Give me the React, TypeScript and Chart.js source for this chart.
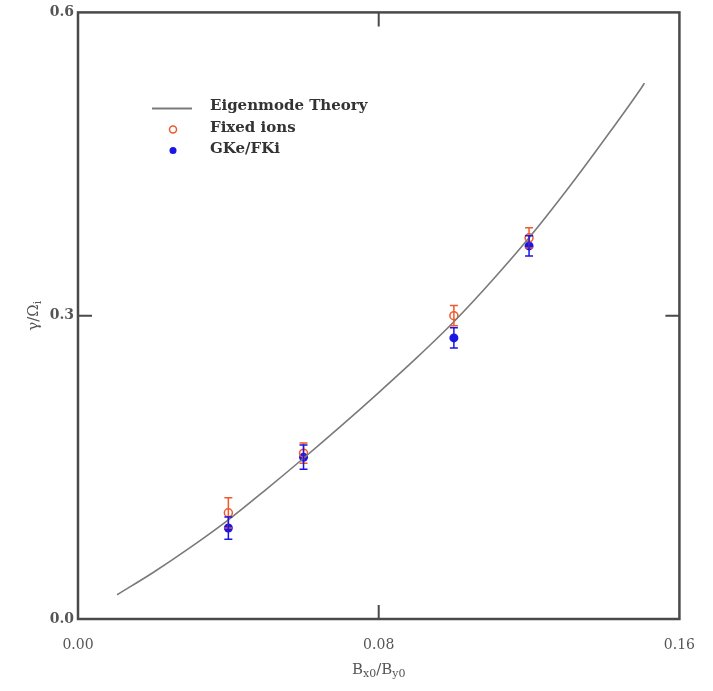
import React, { useEffect, useRef } from "react";
import { Chart, registerables } from "chart.js";

Chart.register(...registerables);

// Eigenmode theory curve
const theoryX = [0.0104, 0.02, 0.03, 0.04, 0.05, 0.06, 0.07, 0.08, 0.09, 0.10, 0.11, 0.12, 0.13, 0.14, 0.15, 0.1507];
const theoryY = [0.024, 0.046, 0.071, 0.098, 0.128, 0.159, 0.191, 0.224, 0.258, 0.294, 0.334, 0.377, 0.424, 0.474, 0.526, 0.530];

// Simulation points
const simX = [0.04, 0.06, 0.10, 0.12];
const fixedY = [0.105, 0.164, 0.300, 0.377];
const fixedErr = [0.015, 0.010, 0.010, 0.010];
const gkeY = [0.090, 0.160, 0.278, 0.369];
const gkeErr = [0.011, 0.012, 0.010, 0.010];

const xTicks = [0, 0.08, 0.16];
const yTicks = [0, 0.3, 0.6];
const xTickLabels = ["0.00", "0.08", "0.16"];
const yTickLabels = ["0.0", "0.3", "0.6"];

const legendLabels = ["Eigenmode Theory", "Fixed ions", "GKe/FKi"];

const RED = "#ee5a2c";
const BLUE = "#1a16e6";
const CURVE = "#7a7a7a";
const AXIS = "#4a4a4a";
const TEXT = "#555555";
const FONT = "'DejaVu Serif', serif";

const errorBarPlugin = {
  id: "errorBars",
  afterDatasetsDraw(chart: any) {
    const { ctx, scales } = chart;
    const xs = scales.x, ys = scales.y;
    const sets = [
      { y: fixedY, e: fixedErr, c: RED },
      { y: gkeY, e: gkeErr, c: BLUE },
    ];
    ctx.save();
    ctx.lineWidth = 1.5;
    for (const s of sets) {
      ctx.strokeStyle = s.c;
      for (let i = 0; i < simX.length; i++) {
        const px = xs.getPixelForValue(simX[i]);
        const top = ys.getPixelForValue(s.y[i] + s.e[i]);
        const bot = ys.getPixelForValue(s.y[i] - s.e[i]);
        ctx.beginPath();
        ctx.moveTo(px, top);
        ctx.lineTo(px, bot);
        ctx.moveTo(px - 4, top);
        ctx.lineTo(px + 4, top);
        ctx.moveTo(px - 4, bot);
        ctx.lineTo(px + 4, bot);
        ctx.stroke();
      }
    }
    ctx.restore();
  },
};

function drawSub(ctx: any, parts: [string, boolean][], cx: number, cy: number, size: number) {
  let total = 0;
  const widths: number[] = [];
  for (const [t, sub] of parts) {
    ctx.font = `${sub ? Math.round(size * 0.7) : size}px ${FONT}`;
    const w = ctx.measureText(t).width;
    widths.push(w);
    total += w;
  }
  let x = cx - total / 2;
  parts.forEach(([t, sub], i) => {
    ctx.font = `${sub ? Math.round(size * 0.7) : size}px ${FONT}`;
    ctx.fillText(t, x, cy + (sub ? size * 0.3 : 0));
    x += widths[i];
  });
}

const framePlugin = {
  id: "frame",
  afterDraw(chart: any) {
    const { ctx, chartArea: a, scales } = chart;
    const xs = scales.x, ys = scales.y;
    ctx.save();
    ctx.strokeStyle = AXIS;
    ctx.lineWidth = 2.5;
    ctx.strokeRect(a.left, a.top, a.right - a.left, a.bottom - a.top);
    ctx.lineWidth = 2;
    const tl = 14;
    const mx = xs.getPixelForValue(xTicks[1]);
    const my = ys.getPixelForValue(yTicks[1]);
    ctx.beginPath();
    ctx.moveTo(mx, a.bottom); ctx.lineTo(mx, a.bottom - tl);
    ctx.moveTo(mx, a.top); ctx.lineTo(mx, a.top + tl);
    ctx.moveTo(a.left, my); ctx.lineTo(a.left + tl, my);
    ctx.moveTo(a.right, my); ctx.lineTo(a.right - tl, my);
    ctx.stroke();

    ctx.fillStyle = TEXT;
    ctx.textBaseline = "middle";
    ctx.textAlign = "left";
    drawSub(ctx, [["B", false], ["x0", true], ["/B", false], ["y0", true]], (a.left + a.right) / 2, 670, 15);
    ctx.save();
    ctx.translate(34, (a.top + a.bottom) / 2);
    ctx.rotate(-Math.PI / 2);
    drawSub(ctx, [["γ/Ω", false], ["i", true]], 0, 0, 15);
    ctx.restore();

    const lx = a.left + 74;
    const ly = a.top + 96;
    ctx.strokeStyle = CURVE;
    ctx.lineWidth = 2;
    ctx.beginPath();
    ctx.moveTo(lx, ly); ctx.lineTo(lx + 40, ly);
    ctx.stroke();
    ctx.strokeStyle = RED;
    ctx.lineWidth = 1.5;
    ctx.beginPath();
    ctx.arc(lx + 21, ly + 21, 3.5, 0, Math.PI * 2);
    ctx.stroke();
    ctx.fillStyle = BLUE;
    ctx.beginPath();
    ctx.arc(lx + 21, ly + 42, 3.5, 0, Math.PI * 2);
    ctx.fill();
    ctx.fillStyle = "#333333";
    ctx.font = `bold 15px ${FONT}`;
    ctx.textAlign = "left";
    ctx.textBaseline = "middle";
    legendLabels.forEach((t, i) => ctx.fillText(t, lx + 58, ly - 2 + i * 21.5));
    ctx.restore();
  },
};

export default function App() {
  const ref = useRef<HTMLCanvasElement | null>(null);
  useEffect(() => {
    if (!ref.current) return;
    const chart = new Chart(ref.current, {
      type: "scatter",
      data: {
        datasets: [
          {
            type: "line",
            label: legendLabels[0],
            data: theoryX.map((x, i) => ({ x, y: theoryY[i] })),
            borderColor: CURVE,
            borderWidth: 1.6,
            pointRadius: 0,
            cubicInterpolationMode: "monotone",
            fill: false,
          },
          {
            label: legendLabels[1],
            data: simX.map((x, i) => ({ x, y: fixedY[i] })),
            pointStyle: "circle",
            pointRadius: 4,
            borderColor: RED,
            backgroundColor: "rgba(255,255,255,0)",
            borderWidth: 1.5,
          },
          {
            label: legendLabels[2],
            data: simX.map((x, i) => ({ x, y: gkeY[i] })),
            pointStyle: "circle",
            pointRadius: 4.5,
            borderColor: BLUE,
            backgroundColor: BLUE,
            borderWidth: 0,
          },
        ],
      } as any,
      options: {
        animation: false,
        responsive: false,
        layout: { padding: { top: 7, right: 25, left: 0, bottom: 0 } },
        plugins: { legend: { display: false }, tooltip: { enabled: false } },
        scales: {
          x: {
            type: "linear",
            min: 0,
            max: 0.16,
            afterBuildTicks: (s: any) => { s.ticks = xTicks.map((v) => ({ value: v })); },
            afterFit: (s: any) => { s.height = 72; },
            grid: { display: false, drawTicks: false },
            border: { display: false },
            ticks: {
              padding: 18,
              color: TEXT,
              font: { family: FONT, size: 14 },
              callback: (v: any) => xTickLabels[xTicks.indexOf(Number(v))] ?? "",
            },
          },
          y: {
            type: "linear",
            min: 0,
            max: 0.6,
            afterBuildTicks: (s: any) => { s.ticks = yTicks.map((v) => ({ value: v })); },
            afterFit: (s: any) => { s.width = 78; },
            grid: { display: false, drawTicks: false },
            border: { display: false },
            ticks: {
              padding: 4,
              color: TEXT,
              font: { family: FONT, size: 14, weight: "bold" },
              callback: (v: any) => yTickLabels[yTicks.indexOf(Number(v))] ?? "",
            },
          },
        },
      } as any,
      plugins: [errorBarPlugin, framePlugin],
    });
    return () => chart.destroy();
  }, []);
  return (
    <div style={{ position: "fixed", left: 0, top: 0, width: 713, height: 691, background: "#fff" }}>
      <canvas ref={ref} width={713} height={691} style={{ display: "block", width: 713, height: 691 }} />
    </div>
  );
}
